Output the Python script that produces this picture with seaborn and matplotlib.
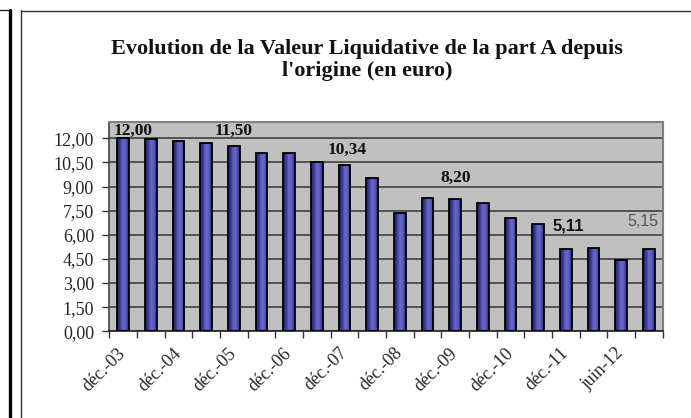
import matplotlib
matplotlib.use("Agg")
import matplotlib.pyplot as plt
import matplotlib.colors as mcolors
from matplotlib.lines import Line2D
import numpy as np
import pandas as pd
import seaborn as sns

# ---------------- data ----------------
categories = ["déc.-03", "juin-04", "déc.-04", "juin-05", "déc.-05", "juin-06",
              "déc.-06", "juin-07", "déc.-07", "juin-08", "déc.-08", "juin-09",
              "déc.-09", "juin-10", "déc.-10", "juin-11", "déc.-11", "mars-12",
              "juin-12", "sept.-12"]
values = [12.00, 11.95, 11.82, 11.72, 11.50, 11.10, 11.10, 10.54, 10.34, 9.51,
          7.38, 8.27, 8.20, 8.00, 7.03, 6.70, 5.11, 5.17, 4.45, 5.15]
shown_ticks = ["déc.-03", "déc.-04", "déc.-05", "déc.-06", "déc.-07", "déc.-08",
               "déc.-09", "déc.-10", "déc.-11", "juin-12"]
yticks = [0, 1.5, 3, 4.5, 6, 7.5, 9, 10.5, 12]
labelled = ["déc.-03", "déc.-05", "déc.-07", "déc.-09", "déc.-11", "sept.-12"]
title = "Evolution de la Valeur Liquidative de la part A depuis\nl'origine (en euro)"

df = pd.DataFrame({"date": categories, "vl": values})

sns.set_theme(style="white")
plt.rcParams["font.family"] = ["Liberation Serif", "DejaVu Serif"]

W, H = 691, 418
fig = plt.figure(figsize=(W / 100, H / 100), dpi=100)
fig.patch.set_facecolor("white")

def px(x0, y0, x1, y1):
    return [x0 / W, 1 - y1 / H, (x1 - x0) / W, (y1 - y0) / H]

ax = fig.add_axes(px(109.3, 122.3, 662.7, 331.3))
ax.set_facecolor("#c0c0c0")

sns.barplot(data=df, x="date", y="vl", order=categories, color="#3c3ca0",
            width=0.42, saturation=1, edgecolor="black", linewidth=1.3, ax=ax)

# gradient fill for the bars
cmap = mcolors.LinearSegmentedColormap.from_list(
    "bar", ["#1c1c70", "#3a3a9a", "#6a6ac6", "#5a5abb", "#262686"])
grad = np.linspace(0, 1, 64).reshape(1, -1)
for p in ax.patches:
    x0, y0 = p.get_x(), p.get_y()
    w, h = p.get_width(), p.get_height()
    im = ax.imshow(grad, cmap=cmap, aspect="auto", extent=(x0, x0 + w, y0, y0 + h),
                   zorder=2, interpolation="bilinear")
    im.set_clip_path(p)
    p.set_facecolor("none")
    p.set_zorder(3)

ax.set_xlim(-0.5, len(categories) - 0.5)
ax.set_ylim(0, 13)

# y axis
ax.set_yticks(yticks)
ax.set_yticklabels([f"{v:.2f}".replace(".", ",") for v in yticks], fontsize=13)
ax.yaxis.grid(True, color="#4a4a4a", linewidth=1.3)
ax.set_axisbelow(True)
ax.tick_params(axis="y", which="major", direction="out", length=5, width=1,
               color="#333333", pad=6, left=True)

# x axis: labels every other category, tick marks at category boundaries
ax.set_xticks(range(len(categories)))
ax.set_xticklabels([c if c in shown_ticks else "" for c in categories], fontsize=13,
                   rotation=45, ha="right", rotation_mode="anchor", va="center")
ax.tick_params(axis="x", which="major", length=0, pad=14)
ax.set_xticks(np.arange(-0.5, len(categories), 1.0), minor=True)
ax.tick_params(axis="x", which="minor", direction="out", length=5, width=1,
               color="#333333", bottom=True)
ax.set_xlabel("")
ax.set_ylabel("")

for s in ["top", "right"]:
    ax.spines[s].set_color("#808080")
    ax.spines[s].set_linewidth(1.5)
ax.spines["left"].set_color("#444444")
ax.spines["left"].set_linewidth(1.2)
ax.spines["bottom"].set_color("#222222")
ax.spines["bottom"].set_linewidth(1.2)

# data labels
label_style = {
    "déc.-03": dict(dx=0.36, dy=0.45, family="Liberation Serif", weight="bold", color="#111111", size=12.5),
    "déc.-05": dict(dx=0.0, dy=0.95, family="Liberation Serif", weight="bold", color="#111111", size=12.5),
    "déc.-07": dict(dx=0.1, dy=0.94, family="Liberation Serif", weight="bold", color="#111111", size=12.5),
    "déc.-09": dict(dx=0.03, dy=1.33, family="Liberation Serif", weight="bold", color="#111111", size=12.5),
    "déc.-11": dict(dx=0.08, dy=1.44, family="Liberation Sans", weight="bold", color="#111111", size=12),
    "sept.-12": dict(dx=-0.2, dy=1.67, family="Liberation Sans", weight="normal", color="#555555", size=11.5),
}
for name in labelled:
    i = categories.index(name)
    v = values[i]
    st = label_style[name]
    ax.text(i + st["dx"], v + st["dy"], f"{v:.2f}".replace(".", ","),
            ha="center", va="center", fontsize=st["size"], fontfamily=st["family"],
            fontweight=st["weight"], color=st["color"], zorder=5)

# title
fig.text(367 / W, 1 - 60 / H, title, ha="center", va="center", fontsize=16,
         fontweight="bold", linespacing=1.1, color="#111111")

# frame decorations
fig.add_artist(Line2D([9.5 / W, 9.5 / W], [0, 1 - 10 / H], color="black", linewidth=2.4,
                      transform=fig.transFigure))
fig.add_artist(Line2D([0, 9.5 / W], [1 - 10 / H, 1 - 10 / H], color="#222222", linewidth=1,
                      transform=fig.transFigure))
fig.add_artist(Line2D([20.5 / W, 20.5 / W], [0, 1 - 10 / H], color="#333333", linewidth=1,
                      transform=fig.transFigure))
fig.add_artist(Line2D([20.5 / W, 1], [1 - 10.5 / H, 1 - 10.5 / H], color="#333333",
                      linewidth=1, transform=fig.transFigure))

fig.savefig("out.png", dpi=100)
